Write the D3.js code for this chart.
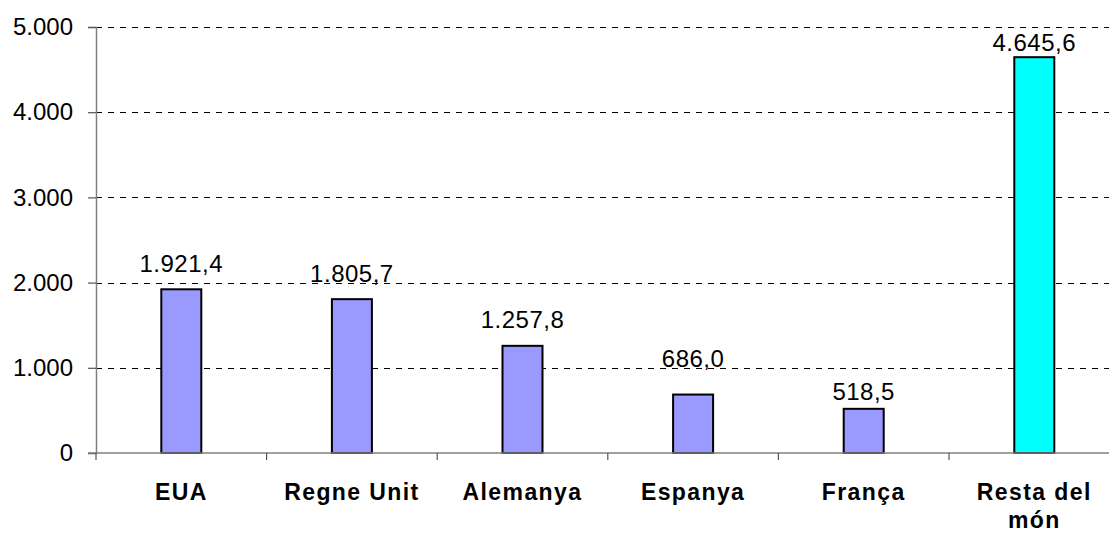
<!DOCTYPE html>
<html lang="ca">
  <head>
    <meta charset="UTF-8" />
    <title>Chart</title>
    <style>
      html, body { margin: 0; padding: 0; background: #fff; }
      svg { display: block; }
    </style>
  </head>
  <body>
    <svg id="chart" width="1109" height="535"></svg>

    <script src="https://d3js.org/d3.v7.min.js"></script>
    <script>
      // data
      const categories = ["EUA", "Regne Unit", "Alemanya", "Espanya", "França", "Resta del món"];
      const values = [1921.4, 1805.7, 1257.8, 686.0, 518.5, 4645.6];
      const valueLabels = ["1.921,4", "1.805,7", "1.257,8", "686,0", "518,5", "4.645,6"];
      const yTicks = [0, 1000, 2000, 3000, 4000, 5000];
      const yTickLabels = ["0", "1.000", "2.000", "3.000", "4.000", "5.000"];

      // label lift above bar top (labels sit unevenly in the original)
      const labelLift = [17, 17, 18, 28, 9, 6];

      const svg = d3.select("#chart");
      const x0 = 96, step = 170.6, n = categories.length;
      const barW = 40;
      const pad = 1 - barW / step;

      const x = d3.scaleBand()
        .domain(categories)
        .range([x0, x0 + step * n])
        .paddingInner(pad)
        .paddingOuter(pad / 2);

      const y = d3.scaleLinear().domain([0, 5000]).range([453, 27]);

      // gridlines
      svg.append("g")
        .selectAll("line")
        .data(yTicks.filter(d => d > 0))
        .join("line")
        .attr("x1", x0).attr("x2", 1109)
        .attr("y1", d => Math.round(y(d)) + 0.5)
        .attr("y2", d => Math.round(y(d)) + 0.5)
        .attr("stroke", "#000")
        .attr("stroke-width", 1)
        .attr("stroke-dasharray", "6,6");

      // bars
      svg.append("g")
        .selectAll("rect")
        .data(values)
        .join("rect")
        .attr("x", (d, i) => x(categories[i]))
        .attr("width", x.bandwidth())
        .attr("y", d => y(d))
        .attr("height", d => y(0) - y(d))
        .attr("fill", (d, i) => i === n - 1 ? "#00FFFF" : "#9999FF")
        .attr("stroke", "#000")
        .attr("stroke-width", 2);

      // y axis
      const yAxis = svg.append("g")
        .attr("transform", `translate(${x0},0)`)
        .call(d3.axisLeft(y).tickValues(yTicks).tickSize(8).tickPadding(15)
          .tickFormat((d, i) => yTickLabels[i]));
      yAxis.select(".domain").attr("stroke", "#808080").attr("stroke-width", 1.5);
      yAxis.selectAll(".tick line").attr("stroke", "#555").attr("stroke-width", 1.2);
      yAxis.selectAll(".tick text")
        .attr("font-family", "Liberation Sans, Arial, sans-serif")
        .attr("font-size", 24)
        .attr("fill", "#000");

      // x axis baseline and tick marks at band boundaries
      svg.append("line")
        .attr("x1", x0 - 8).attr("x2", 1109)
        .attr("y1", y(0)).attr("y2", y(0))
        .attr("stroke", "#808080").attr("stroke-width", 1.5);

      svg.append("g")
        .selectAll("line")
        .data(d3.range(n + 1))
        .join("line")
        .attr("x1", i => x0 + i * step).attr("x2", i => x0 + i * step)
        .attr("y1", y(0)).attr("y2", y(0) + 7)
        .attr("stroke", "#555").attr("stroke-width", 1.2);

      // value labels
      svg.append("g")
        .selectAll("text")
        .data(values)
        .join("text")
        .attr("x", (d, i) => x(categories[i]) + x.bandwidth() / 2)
        .attr("y", (d, i) => y(d) - labelLift[i])
        .attr("text-anchor", "middle")
        .attr("font-family", "Liberation Sans, Arial, sans-serif")
        .attr("font-size", 24)
        .attr("letter-spacing", 0.5)
        .attr("fill", "#000")
        .text((d, i) => valueLabels[i]);

      // category labels (wrap "Resta del món")
      const catG = svg.append("g");
      categories.forEach((c, i) => {
        const cx = x(c) + x.bandwidth() / 2;
        const lines = c === "Resta del món" ? ["Resta del", "món"] : [c];
        const t = catG.append("text")
          .attr("x", cx)
          .attr("y", 500)
          .attr("text-anchor", "middle")
          .attr("font-family", "Liberation Sans, Arial, sans-serif")
          .attr("font-size", 23)
          .attr("font-weight", "bold")
          .attr("letter-spacing", 1.4)
          .attr("fill", "#000");
        lines.forEach((l, j) => {
          t.append("tspan").attr("x", cx).attr("y", 500 + j * 28).text(l);
        });
      });
    </script>
  </body>
</html>
